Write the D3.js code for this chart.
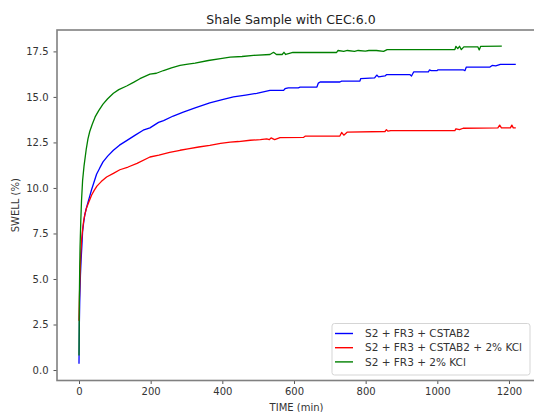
<!DOCTYPE html>
<html>
<head>
<meta charset="utf-8">
<script src="https://cdn.jsdelivr.net/npm/d3@7"></script>
<style>
  body { margin: 0; background: #fff; overflow: hidden; }
  text { font-family: "DejaVu Sans", sans-serif; }
</style>
</head>
<body>
<div id="chart"></div>
<script>
// values, [time (min), swell (%)]
var blue_data = [[0,0.35],[0.5,1.6],[1,2.6],[2,3.7],[3,4.5],[4,5.2],[6,6.1],[8,6.8],[10,7.6],[13,8.1],[16,8.5],[20,8.85],[25,9.2],[30,9.55],[35,9.9],[40,10.2],[49,10.75],[58,11.1],[67,11.43],[80,11.75],[96,12.07],[113,12.35],[133,12.6],[157,12.9],[179,13.17],[198,13.3],[222,13.6],[236,13.7],[263,13.95],[291,14.17],[324,14.4],[365,14.67],[400,14.85],[431,15.0],[465,15.1],[496,15.2],[533,15.36],[571,15.36],[575,15.45],[584,15.5],[612,15.5],[617,15.54],[664,15.54],[668,15.76],[673,15.82],[728,15.82],[733,15.87],[784,15.87],[786,16.0],[825,16.05],[831,16.2],[836,16.1],[854,16.15],[858,16.22],[924,16.22],[928,16.15],[934,16.37],[975,16.37],[978,16.48],[983,16.44],[999,16.44],[1002,16.49],[1072,16.49],[1077,16.44],[1081,16.64],[1147,16.64],[1153,16.73],[1163,16.7],[1176,16.79],[1219,16.79]]

var red_data = [[0,2.7],[0.5,3.3],[1,3.8],[2,4.6],[3,5.3],[5,6.4],[7,7.1],[10,7.7],[13,8.2],[17,8.6],[21,8.9],[25,9.1],[30,9.35],[35,9.6],[42,9.85],[50,10.1],[62,10.35],[77,10.6],[96,10.8],[114,11.0],[137,11.15],[162,11.35],[198,11.7],[223,11.8],[253,11.95],[282,12.07],[304,12.15],[334,12.25],[365,12.34],[395,12.45],[422,12.52],[445,12.55],[478,12.62],[506,12.65],[524,12.7],[531,12.65],[536,12.75],[546,12.65],[561,12.76],[627,12.78],[632,12.85],[728,12.85],[733,13.05],[739,12.9],[749,13.07],[854,13.1],[858,13.2],[862,13.12],[870,13.15],[1049,13.15],[1052,13.25],[1062,13.2],[1072,13.28],[1169,13.3],[1174,13.45],[1179,13.3],[1204,13.3],[1208,13.45],[1212,13.3],[1219,13.3]]

var green_data = [[0,0.8],[0.5,2.5],[1,4.0],[2,5.6],[3,6.8],[5,8.2],[7,9.3],[10,10.4],[14,11.2],[20,12.1],[25,12.7],[30,13.1],[37,13.5],[45,13.9],[55,14.25],[67,14.6],[80,14.9],[96,15.2],[111,15.4],[133,15.6],[152,15.8],[170,16.0],[198,16.25],[216,16.3],[236,16.45],[258,16.6],[282,16.73],[304,16.8],[324,16.85],[361,17.0],[395,17.1],[422,17.19],[455,17.22],[487,17.28],[533,17.33],[543,17.45],[551,17.33],[567,17.33],[572,17.45],[577,17.33],[597,17.44],[719,17.44],[723,17.55],[739,17.5],[749,17.55],[769,17.5],[779,17.55],[799,17.52],[809,17.55],[830,17.55],[850,17.5],[860,17.6],[1049,17.6],[1052,17.78],[1057,17.65],[1062,17.78],[1067,17.6],[1074,17.75],[1113,17.75],[1117,17.58],[1121,17.78],[1180,17.79]]

var series_names = ["S2 + FR3 + CSTAB2", "S2 + FR3 + CSTAB2 + 2% KCl", "S2 + FR3 + 2% KCl"]
var series_colors = ["#0000ff", "#ff0000", "#008000"]
var x_ticks = [0, 200, 400, 600, 800, 1000, 1200]
var y_ticks = [0.0, 2.5, 5.0, 7.5, 10.0, 12.5, 15.0, 17.5]

var width = 534
    height = 412
    plot_left = 57
    plot_right = 538
    plot_top = 30
    plot_bottom = 380.5

var svg = d3.select("#chart")
    .append("svg")
    .attr("width", width)
    .attr("height", height)
    .style("display", "block");

// matplotlib style limits (data range plus 5% margins), right side is cropped
var x = d3.scaleLinear()
    .domain([-61.4, 1281])
    .range([plot_left, plot_right]);

var y = d3.scaleLinear()
    .domain([-0.575, 18.675])
    .range([plot_bottom, plot_top]);

var line = d3.line()
    .x(function(d) { return x(d[0]); })
    .y(function(d) { return y(d[1]); });

// curves
var all_data = [blue_data, red_data, green_data]
all_data.forEach(function(d, i) {
  svg.append("path")
    .attr("d", line(d))
    .attr("fill", "none")
    .attr("stroke", series_colors[i])
    .attr("stroke-width", 1.3)
    .attr("stroke-linejoin", "round");
});

// axes
var x_axis = svg.append("g")
    .attr("transform", "translate(0," + plot_bottom + ")")
    .call(d3.axisBottom(x).tickValues(x_ticks).tickSize(3.5).tickPadding(4).tickFormat(d3.format("d")));

var y_axis = svg.append("g")
    .attr("transform", "translate(" + plot_left + ",0)")
    .call(d3.axisLeft(y).tickValues(y_ticks).tickSize(3.5).tickPadding(5).tickFormat(d3.format(".1f")));

[x_axis, y_axis].forEach(function(a) {
  a.select(".domain").remove();
  a.selectAll(".tick line").attr("stroke", "#555").attr("stroke-width", 1);
  a.selectAll(".tick text").attr("fill", "#333").style("font-size", "10px").style("font-family", "DejaVu Sans");
});

// frame
svg.append("rect")
    .attr("x", plot_left)
    .attr("y", plot_top)
    .attr("width", plot_right - plot_left)
    .attr("height", plot_bottom - plot_top)
    .attr("fill", "none")
    .attr("stroke", "#808080")
    .attr("stroke-width", 1.6);

// title + axis labels
svg.append("text")
    .attr("x", 291)
    .attr("y", 23.5)
    .attr("text-anchor", "middle")
    .style("font-size", "12.5px")
    .attr("fill", "#222")
    .text("Shale Sample with CEC:6.0");

svg.append("text")
    .attr("x", 296.5)
    .attr("y", 410.5)
    .attr("text-anchor", "middle")
    .style("font-size", "10px")
    .attr("fill", "#333")
    .text("TIME (min)");

svg.append("text")
    .attr("text-anchor", "middle")
    .attr("transform", "translate(19," + ((plot_top + plot_bottom) / 2) + ")rotate(-90)")
    .style("font-size", "10px")
    .attr("fill", "#333")
    .text("SWELL (%)");

// legend
var legend = svg.append("g")
legend.append("rect")
    .attr("x", 332)
    .attr("y", 323.5)
    .attr("width", 198)
    .attr("height", 51.5)
    .attr("rx", 2.5)
    .attr("fill", "#fff")
    .attr("fill-opacity", 0.85)
    .attr("stroke", "#d5d5d5");

series_names.forEach(function(name, i) {
  var ly = 333.5 + i * 14.2
  legend.append("line")
    .attr("x1", 335)
    .attr("x2", 353)
    .attr("y1", ly)
    .attr("y2", ly)
    .attr("stroke", series_colors[i])
    .attr("stroke-width", 1.4);
  legend.append("text")
    .attr("x", 365)
    .attr("y", ly + 3.7)
    .style("font-size", "10.5px")
    .attr("fill", "#333")
    .text(name);
});
</script>
</body>
</html>
